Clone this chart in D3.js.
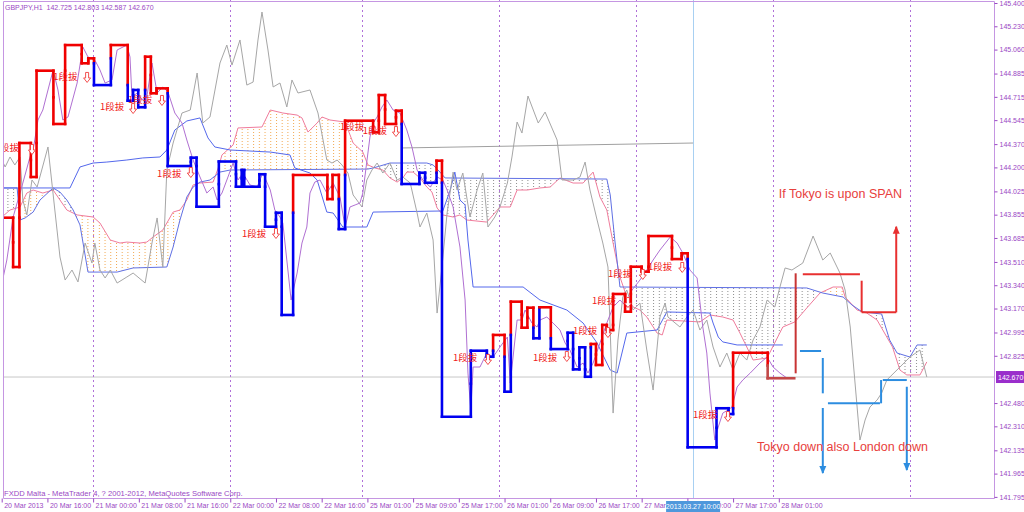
<!DOCTYPE html>
<html><head><meta charset="utf-8">
<script src="https://cdn.jsdelivr.net/npm/d3@7"></script>
<style>html,body{margin:0;padding:0;background:#fff;overflow:hidden}</style>
</head><body>
<svg id="c" width="1024" height="512"></svg>
<script>
// ---------- DATA (bar index, price) ----------
const symbolHeader = "GBPJPY,H1  142.725 142.803 142.587 142.670";
const copyright = "FXDD Malta - MetaTrader 4, ? 2001-2012, MetaQuotes Software Corp.";
const currentPrice = 142.670;
const yTicks = [145.400,145.230,145.060,144.885,144.715,144.545,144.370,144.200,144.025,143.855,143.685,143.510,143.340,143.170,142.995,142.825,142.480,142.310,142.135,141.965,141.795];
const xTickBars = [0,8,16,24,32,40,48,56,64,72,80,88,96,104,112,120,128,136];
const xTickLabels = ["20 Mar 2013","20 Mar 16:00","21 Mar 00:00","21 Mar 08:00","21 Mar 16:00","22 Mar 00:00","22 Mar 08:00","22 Mar 16:00","25 Mar 01:00","25 Mar 09:00","25 Mar 17:00","26 Mar 01:00","26 Mar 09:00","26 Mar 17:00","27 Mar 01:00","27 Mar 09:00","27 Mar 17:00","28 Mar 01:00"];
const daySeparatorBars = [16,40,63,87,111,135,159];
const crosshairBar = 121;
const crosshairLabel = "2013.03.27 10:00";

const closeLine = [[0.05,143.356],[0.9,143.524],[2.0,143.838],[3.7,144.086],[4.95,144.276],[5.5,144.327],[6.35,144.546],[7.2,144.619],[9.0,144.911],[9.85,144.765],[10.7,144.546],[11.6,144.568],[13.2,144.816],[14.2,145.079],[15.1,145.006],[16.3,144.984],[17.2,144.911],[18.1,144.816],[19.3,144.838],[20.2,145.057],[21.9,145.093],[22.45,145.006],[22.8,144.714],[23.7,144.743],[24.55,144.692],[25.4,144.714],[26.3,144.962],[27.2,144.743],[28.2,144.787],[29.1,144.750],[30.3,144.597],[31.55,144.524],[32.4,144.400],[33.5,144.254],[34.7,144.130],[35.9,144.013],[37.0,144.057],[37.7,143.962],[38.55,144.013],[39.6,144.130],[40.5,144.232],[41.35,144.108],[42.2,144.159],[43.45,144.072],[44.7,144.057],[45.7,144.159],[47.0,144.035],[47.8,143.889],[48.7,143.838],[49.2,143.794],[50.65,143.232],[51.7,143.429],[52.55,143.648],[53.4,143.765],[53.95,144.013],[54.8,144.093],[55.7,144.108],[56.9,144.013],[58.0,144.086],[59.2,143.984],[60.1,143.765],[60.95,143.911],[61.85,143.926],[62.7,143.940],[63.2,144.013],[64.45,144.422],[65.0,144.524],[65.7,144.568],[66.55,144.641],[67.4,144.692],[68.5,144.619],[69.7,144.597],[70.9,144.473],[71.8,144.349],[72.7,144.181],[73.7,144.108],[75.0,144.057],[76.2,144.130],[77.2,144.108],[77.95,144.035],[79.0,143.911],[80.2,143.619],[81.1,143.232],[81.6,142.699],[82.1,142.429],[82.5,142.743],[83.7,142.743],[84.9,142.845],[86.0,142.816],[87.2,142.889],[88.5,142.962],[89.0,142.626],[90.2,143.086],[91.05,143.086],[91.6,143.159],[92.8,143.064],[93.7,143.035],[94.2,143.086],[95.4,143.108],[96.5,143.064],[97.7,143.013],[98.6,142.918],[99.45,142.867],[100.7,142.743],[101.75,142.772],[102.6,142.699],[103.5,142.772],[104.7,142.918],[105.9,143.064],[107.0,143.181],[108.2,143.232],[109.4,143.181],[110.3,143.305],[111.7,143.378],[112.9,143.451],[114.0,143.524],[115.2,143.597],[117.0,143.692],[118.2,143.648],[119.2,143.575],[120.45,143.451],[121.7,143.393],[122.7,143.035],[123.4,142.845],[123.95,142.553],[124.8,142.210],[125.4,142.305],[126.2,142.407],[127.1,142.429],[127.8,142.451],[128.7,142.597],[129.7,142.648],[131.0,142.699],[132.7,142.772],[133.95,142.816],[135.0,142.743],[136.2,142.699],[137.4,142.663]];

const grayLine = [[0.05,144.254],[0.6,144.203],[1.45,144.276],[2.3,144.218],[3.2,144.276],[3.7,143.962],[4.4,143.853],[5.3,144.108],[6.2,144.057],[8.1,144.349],[9.3,143.889],[10.2,143.546],[11.1,143.378],[12.3,143.451],[13.35,143.364],[14.6,143.648],[15.8,143.502],[16.3,143.648],[17.2,143.451],[18.1,143.393],[19.0,143.451],[20.2,143.356],[21.9,143.400],[23.0,143.429],[25.1,143.356],[26.3,143.648],[27.2,143.831],[28.2,143.473],[28.9,144.181],[30.0,144.378],[31.55,144.597],[33.0,144.619],[34.2,144.889],[35.2,144.524],[36.45,144.568],[38.2,144.962],[39.4,145.093],[40.3,144.947],[41.7,145.130],[42.9,144.801],[44.0,144.823],[44.85,145.130],[45.55,145.334],[46.6,145.057],[47.5,144.787],[48.7,144.816],[49.9,144.641],[50.8,144.838],[51.85,144.743],[53.95,144.765],[55.35,144.597],[56.9,144.254],[57.8,144.232],[58.7,144.254],[59.55,144.218],[60.6,144.159],[61.5,143.999],[63.05,143.911],[63.9,144.108],[64.8,144.181],[65.7,144.232],[66.7,144.159],[67.95,144.232],[69.2,144.108],[70.2,144.130],[71.5,144.086],[72.7,143.867],[73.2,143.765],[74.4,143.867],[75.5,143.670],[76.2,143.137],[77.05,143.473],[77.95,143.867],[79.0,144.166],[79.7,144.035],[80.7,144.159],[81.95,143.838],[83.2,144.035],[84.2,144.159],[85.1,143.765],[86.3,143.838],[87.2,143.911],[88.5,144.086],[89.3,144.276],[90.2,144.531],[91.05,144.451],[92.1,144.721],[93.9,144.524],[95.1,144.604],[97.2,144.400],[98.05,144.108],[100.0,144.108],[101.2,144.130],[102.1,144.239],[102.95,144.035],[104.2,143.816],[105.2,143.648],[106.1,143.473],[107.0,142.407],[107.85,142.940],[108.7,143.254],[109.4,143.305],[110.5,143.159],[111.7,143.210],[112.9,142.867],[114.0,142.575],[115.2,143.108],[116.1,143.210],[116.6,143.108],[118.7,143.035],[119.9,143.108],[121.0,143.159],[122.2,143.013],[123.4,143.086],[124.5,142.889],[125.7,142.743],[126.9,142.845],[128.0,142.721],[129.2,142.845],[130.4,142.794],[131.5,142.940],[132.7,143.035],[133.95,143.232],[135.3,143.181],[136.2,143.327],[137.1,143.466],[138.3,143.451],[140.2,143.502],[142.0,143.699],[143.7,143.524],[145.0,143.575],[146.7,143.429],[147.6,143.305],[148.5,143.035],[150.2,142.210],[151.1,142.356],[151.95,142.451],[153.2,142.502],[154.0,142.553],[154.9,142.648],[157.2,142.743],[158.95,142.816],[160.7,142.867],[161.9,142.670]];

const kijunLine = [[0.05,144.050],[11.95,144.050],[13.7,144.203],[16.0,144.232],[18.4,144.239],[21.9,144.254],[24.7,144.269],[27.7,144.276],[28.9,144.327],[30.3,144.473],[32.4,144.539],[34.7,144.561],[36.1,144.415],[37.3,144.349],[40.0,144.327],[47.0,144.312],[50.45,144.291],[51.3,144.196],[53.95,144.159],[55.2,144.108],[56.9,143.874],[58.0,143.867],[59.7,143.765],[63.9,143.765],[65.0,143.874],[77.2,143.882],[78.5,144.035],[79.3,144.166],[80.2,143.962],[81.1,143.926],[81.6,143.670],[82.5,143.327],[91.25,143.327],[94.2,143.232],[98.9,143.159],[101.75,143.064],[104.2,142.918],[106.5,142.721],[107.7,142.699],[109.4,142.991],[114.7,143.013],[116.4,143.145],[123.95,143.137],[124.5,143.064],[125.4,142.962],[126.2,142.926],[128.7,142.904],[136.7,142.904]];

const spanB = [[0.05,144.050],[2.7,144.050],[3.2,143.816],[4.1,143.831],[5.5,143.874],[6.7,143.962],[9.0,144.050],[10.2,144.020],[11.4,143.962],[12.5,143.889],[13.7,143.780],[15.1,143.436],[20.2,143.436],[23.0,143.466],[28.9,143.473],[30.0,143.619],[31.2,143.816],[32.4,143.984],[33.5,144.057],[34.7,144.093],[36.45,144.108],[38.2,144.166],[40.0,144.181],[64.1,144.188],[65.0,144.196],[66.2,144.210],[67.95,144.232],[74.4,144.232],[75.5,144.218],[76.7,144.166],[77.6,144.123],[105.9,144.115],[106.5,143.999],[107.3,143.670],[108.2,143.327],[140.9,143.320],[143.7,143.283],[147.25,143.254],[148.8,143.196],[150.6,143.145],[154.0,143.130],[155.4,142.940],[156.7,142.845],[158.95,142.816],[160.2,142.904],[161.9,142.904]];

const spanA = [[0.05,143.838],[1.45,143.889],[3.2,143.911],[4.4,144.013],[5.5,144.035],[7.2,144.013],[9.0,144.035],[10.2,143.962],[11.4,143.889],[13.2,143.853],[16.0,143.838],[17.2,143.794],[19.0,143.670],[20.7,143.648],[21.9,143.655],[24.2,143.648],[25.4,143.655],[26.5,143.692],[28.2,143.743],[30.0,143.874],[31.2,143.889],[32.4,143.962],[33.5,144.072],[34.7,144.086],[37.0,144.093],[37.9,144.196],[38.55,144.291],[40.5,144.364],[41.35,144.488],[45.55,144.495],[47.0,144.619],[49.2,144.597],[51.7,144.582],[52.55,144.561],[53.6,144.458],[55.2,144.524],[56.05,144.568],[57.45,144.546],[60.1,144.531],[61.5,144.378],[63.2,144.312],[64.1,144.218],[65.3,144.196],[66.7,144.181],[67.95,144.123],[69.2,144.093],[70.2,144.123],[70.9,144.166],[72.0,144.166],[73.2,144.123],[74.4,144.057],[75.3,144.020],[76.2,143.904],[77.2,143.853],[79.0,143.838],[80.2,143.853],[81.4,143.816],[84.9,143.801],[86.0,143.853],[87.2,143.911],[89.0,143.911],[90.2,144.035],[92.0,144.035],[94.2,144.050],[96.0,144.057],[97.7,144.123],[100.0,144.086],[101.75,144.086],[103.5,144.166],[104.7,143.984],[105.9,143.889],[107.0,143.648],[108.2,143.400],[109.4,143.254],[110.5,143.181],[111.7,143.159],[112.9,143.108],[114.7,142.991],[115.6,142.977],[116.4,143.086],[122.2,143.072],[123.95,143.123],[126.2,143.108],[128.0,143.086],[129.2,142.991],[130.4,142.889],[131.5,142.794],[133.95,142.809],[136.7,143.035],[138.8,143.072],[140.9,143.174],[143.2,143.283],[145.5,143.327],[147.1,143.327],[147.6,143.254],[149.7,143.159],[151.4,143.137],[153.2,143.086],[154.9,142.962],[155.9,142.889],[157.2,142.721],[158.4,142.685],[160.7,142.685],[161.9,142.780]];

// step indicator: [startBar, endBar, price, colour code]
const stepSegs = [[0.05,2.0,143.833,'r'],[2.0,3.1,143.473,'r'],[3.1,5.1,144.378,'r'],[5.1,6.1,144.130,'r'],[6.1,9.05,144.906,'r'],[9.05,11.1,144.517,'r'],[11.1,14.0,145.093,'r'],[14.0,15.15,144.960,'r'],[15.15,16.15,144.996,'r'],[16.15,19.1,144.801,'b'],[19.1,22.05,145.093,'r'],[22.05,23.0,144.687,'b'],[23.0,23.9,144.765,'b'],[23.9,25.1,144.639,'b'],[25.1,26.1,145.008,'r'],[26.1,27.1,144.741,'r'],[27.1,29.05,144.777,'r'],[29.05,33.1,144.210,'b'],[33.1,34.1,144.271,'b'],[34.1,38.0,143.913,'b'],[38.0,41.0,144.243,'b'],[41.0,42.0,144.059,'b'],[42.0,42.45,144.181,'b'],[42.45,45.1,144.059,'b'],[45.1,46.1,144.150,'b'],[46.1,48.0,143.767,'b'],[48.0,49.0,143.869,'b'],[49.0,51.0,143.123,'b'],[51.0,57.0,144.145,'r'],[57.0,57.9,143.969,'r'],[57.9,59.0,144.145,'r'],[59.0,60.1,143.750,'b'],[60.1,65.0,144.541,'r'],[65.0,66.0,144.456,'r'],[66.0,67.1,144.728,'r'],[67.1,69.0,144.517,'r'],[69.0,70.0,144.614,'r'],[70.0,73.1,144.079,'b'],[73.1,74.1,144.161,'b'],[74.1,76.1,144.088,'b'],[76.1,77.05,144.249,'r'],[77.05,82.1,142.380,'b'],[82.1,84.9,142.862,'b'],[84.9,86.0,142.818,'b'],[86.0,88.0,142.977,'r'],[88.0,89.1,142.563,'b'],[89.1,91.0,143.220,'r'],[91.0,92.0,143.030,'r'],[92.0,93.05,143.176,'r'],[93.05,94.1,142.953,'b'],[94.1,96.1,143.179,'r'],[96.1,99.05,142.874,'b'],[99.05,100.0,142.993,'b'],[100.0,101.1,142.726,'b'],[101.1,102.1,142.887,'b'],[102.1,103.1,142.672,'b'],[103.1,104.0,142.911,'r'],[104.0,105.1,142.758,'r'],[105.1,105.9,143.050,'r'],[105.9,107.0,143.013,'r'],[107.0,109.1,143.276,'r'],[109.1,110.1,143.147,'r'],[110.1,112.0,143.475,'r'],[112.0,113.2,143.439,'r'],[113.2,117.3,143.699,'r'],[117.3,119.0,143.531,'r'],[119.0,120.05,143.573,'r'],[120.05,125.1,142.157,'b'],[125.1,127.2,142.442,'b'],[127.2,128.0,142.400,'b'],[128.0,134.05,142.847,'r'],[134.05,138.7,142.661,'d']];

const tagText = "1段拔";
const tagBars = [-1.2,9.0,17.2,22.1,27.2,42.05,59.2,63.2,79.0,93.0,100.0,103.3,106.1,113.1,121.0];
const tagPrices = [144.342,144.867,144.641,144.692,144.159,143.721,144.495,144.473,142.816,142.816,143.013,143.225,143.429,143.480,142.393];
const arrowBars = [5.3,14.95,23.0,28.05,33.1,48.0,69.0,85.1,98.9,106.1,109.6,112.2,119.1,127.1];
const arrowPrices = [144.327,144.853,144.626,144.685,144.159,143.714,144.458,142.794,142.816,142.991,143.210,143.415,143.466,142.378];

const trendLine = [[70.2,144.342],[121.0,144.378]];
const redAnno = [[138.95,143.427,138.95,142.697],[140.2,143.420,150.2,143.420],[150.5,143.373,150.5,143.142],[150.5,143.142,156.55,143.142],[156.55,143.142,156.55,143.767]];
const redArrowTips = [[156.55,143.767]];
const blueAnno = [[139.7,142.860,143.4,142.860],[143.7,142.809,143.7,142.551],[143.7,142.444,143.7,141.969],[144.6,142.478,153.7,142.478],[153.9,142.478,153.9,142.648],[154.2,142.648,158.4,142.648],[158.4,142.599,158.4,141.991]];
const blueArrowTips = [[143.7,141.969],[158.4,141.991]];
const noteTexts = ["If Tokyo is upon SPAN","Tokyo down also London down"];
const noteBars = [136.0,132.2];
const notePrices = [144.013,142.166];

// ---------- DRAWING ----------
const W=1024,H=512, L=3, R=994, T=1, B=498;
const x = d3.scaleLinear().domain([0,8]).range([1.7,1.7+8*5.714]);
const y = d3.scaleLinear().domain([141.795,145.400]).range([496.9,3]);
const svg = d3.select('#c');
const defs = svg.append('defs');
const AX='#9a48c4', FR='#c596e2';
const stepCol = {r:'#f00000', b:'#0000f0', d:'#c24848'};

defs.append('clipPath').attr('id','plot').append('rect').attr('x',L).attr('y',0).attr('width',R-L).attr('height',B);
function addPattern(id,col){
  const p=defs.append('pattern').attr('id',id).attr('patternUnits','userSpaceOnUse')
    .attr('width',5.714).attr('height',3).attr('x',x(0)).attr('y',0);
  p.append('rect').attr('width',1).attr('height',1).attr('fill',col);
}
addPattern('dotO','#f2a850'); addPattern('dotG','#8c8c8c');
const below = d3.area().x(d=>x(d[0])).y0(B).y1(d=>y(d[1]));
const above = d3.area().x(d=>x(d[0])).y0(0).y1(d=>y(d[1]));
defs.append('clipPath').attr('id','belowA').append('path').attr('d',below(spanA));
defs.append('clipPath').attr('id','aboveB').append('path').attr('d',above(spanB));
defs.append('clipPath').attr('id','belowB').append('path').attr('d',below(spanB));
defs.append('clipPath').attr('id','aboveA').append('path').attr('d',above(spanA));

svg.append('rect').attr('width',W).attr('height',H).attr('fill','#fff');
const g = svg.append('g').attr('clip-path','url(#plot)');

g.append('line').attr('x1',L).attr('x2',R).attr('y1',y(currentPrice)).attr('y2',y(currentPrice)).attr('stroke','#c8c8c8');
g.selectAll('.sep').data(daySeparatorBars).enter().append('line')
  .attr('x1',d=>Math.round(x(d))+0.5).attr('x2',d=>Math.round(x(d))+0.5).attr('y1',0).attr('y2',B)
  .attr('stroke','#b070d8').attr('stroke-dasharray','2,3');
g.append('line').attr('x1',Math.round(x(crosshairBar))+0.5).attr('x2',Math.round(x(crosshairBar))+0.5).attr('y1',0).attr('y2',B).attr('stroke','#a8d0f2');

g.append('g').attr('clip-path','url(#belowA)').append('rect').attr('clip-path','url(#aboveB)')
  .attr('x',0).attr('y',0).attr('width',W).attr('height',B).attr('fill','url(#dotO)');
g.append('g').attr('clip-path','url(#belowB)').append('rect').attr('clip-path','url(#aboveA)')
  .attr('x',0).attr('y',0).attr('width',W).attr('height',B).attr('fill','url(#dotG)');

const line = d3.line().x(d=>x(d[0])).y(d=>y(d[1]));
g.append('path').attr('d',line(spanA)).attr('fill','none').attr('stroke','#f07c9c').attr('stroke-width',1);
g.append('path').attr('d',line(spanB)).attr('fill','none').attr('stroke','#6070e4').attr('stroke-width',1);
g.append('path').attr('d',line(kijunLine)).attr('fill','none').attr('stroke','#5468ec').attr('stroke-width',1);
g.append('path').attr('d',line(grayLine)).attr('fill','none').attr('stroke','#a6a6a6').attr('stroke-width',1);
g.append('path').attr('d',line(trendLine)).attr('fill','none').attr('stroke','#a0a0a0').attr('stroke-width',1);
g.append('path').attr('d',line(closeLine)).attr('fill','none').attr('stroke','#b070d2').attr('stroke-width',1);

const sg = g.append('g').attr('stroke-width',2.6).attr('stroke-linecap','square').attr('fill','none');
stepSegs.forEach((s,i)=>{
  if(i<stepSegs.length-1){
    const n=stepSegs[i+1], xv=x(s[1]);
    const hi = s[2]>n[2]? s : n, lo = s[2]>n[2]? n : s;
    let split = (s[2]+n[2])/2;
    if(i>0){ const pp=stepSegs[i-1][2]; if(pp<hi[2] && pp>lo[2]) split=pp; }
    sg.append('line').attr('x1',xv).attr('x2',xv).attr('y1',y(hi[2])).attr('y2',y(split)).attr('stroke',stepCol[hi[3]]);
    sg.append('line').attr('x1',xv).attr('x2',xv).attr('y1',y(split)).attr('y2',y(lo[2])).attr('stroke',stepCol[lo[3]]);
  }
});
stepSegs.forEach(s=>{
  sg.append('line').attr('x1',x(s[0])).attr('x2',x(s[1])).attr('y1',y(s[2])).attr('y2',y(s[2])).attr('stroke',stepCol[s[3]]);
});

g.selectAll('.tag').data(tagBars).enter().append('text')
  .attr('x',(d)=>x(d)).attr('y',(d,i)=>y(tagPrices[i])+3.5)
  .attr('font-family','"Noto Sans CJK SC","Noto Sans CJK JP",sans-serif').attr('font-size',9.5)
  .attr('fill','#f01818').text(tagText);
g.selectAll('.arr').data(arrowBars).enter().append('path')
  .attr('transform',(d,i)=>`translate(${x(d)},${y(arrowPrices[i])})`)
  .attr('d','M-1.5,-5.5 H1.5 V0 H3.5 L0,4.5 L-3.5,0 H-1.5 Z')
  .attr('fill','#fff').attr('stroke','#f03c3c').attr('stroke-width',0.9);

const ag = g.append('g').attr('stroke-width',2);
redAnno.forEach((a,i)=>ag.append('line').attr('x1',x(a[0])).attr('y1',y(a[1])).attr('x2',x(a[2])).attr('y2',y(a[3]))
  .attr('stroke', i===0?'#c83434':'#e83030'));
blueAnno.forEach(a=>ag.append('line').attr('x1',x(a[0])).attr('y1',y(a[1])).attr('x2',x(a[2])).attr('y2',y(a[3])).attr('stroke','#2c8de0'));
redArrowTips.forEach(t=>g.append('path').attr('transform',`translate(${x(t[0])},${y(t[1])})`).attr('d','M0,-1 L3.5,7 L-3.5,7 Z').attr('fill','#e83030'));
blueArrowTips.forEach(t=>g.append('path').attr('transform',`translate(${x(t[0])},${y(t[1])})`).attr('d','M0,1 L3.5,-7 L-3.5,-7 Z').attr('fill','#2c8de0'));
noteTexts.forEach((t,i)=>g.append('text').attr('x',x(noteBars[i])).attr('y',y(notePrices[i])+4.5)
  .attr('font-family','"Liberation Sans",Arial,sans-serif').attr('font-size',12.5).attr('fill','#e8403c').text(t));

svg.append('path').attr('d',`M${L+0.5},${B+0.5} V${T+0.5} H${R+0.5} V${B+0.5} H${L+0.5}`).attr('fill','none').attr('stroke',FR);

const yAxis = d3.axisRight(y).tickValues(yTicks).tickSize(3).tickPadding(2).tickFormat(d3.format('.3f'));
const ya = svg.append('g').attr('transform',`translate(${R+0.5},0)`).call(yAxis);
ya.select('.domain').remove();
ya.selectAll('line').attr('stroke',AX);
ya.selectAll('text').attr('fill',AX).attr('font-family','"Liberation Sans",Arial,sans-serif').attr('font-size',7);

const xAxis = d3.axisBottom(x).tickValues(xTickBars).tickSize(4).tickPadding(2).tickFormat((d,i)=>xTickLabels[i]);
const xa = svg.append('g').attr('transform',`translate(0,${B+0.5})`).call(xAxis);
xa.select('.domain').remove();
xa.selectAll('line').attr('stroke',AX);
xa.selectAll('text').attr('fill',AX).attr('font-family','"Liberation Sans",Arial,sans-serif').attr('font-size',7)
  .attr('text-anchor','start').attr('dx',2).attr('dy','0.55em');

const cy = y(currentPrice);
svg.append('rect').attr('x',R+2).attr('y',cy-6).attr('width',W-R-2).attr('height',12).attr('fill','#9a2ecb');
svg.append('text').attr('x',R+4).attr('y',cy+2.5).attr('fill','#fff').attr('font-family','"Liberation Sans",Arial,sans-serif').attr('font-size',7).text(d3.format('.3f')(currentPrice));

const cx = x(crosshairBar);
svg.append('rect').attr('x',cx-27).attr('y',501).attr('width',54).attr('height',11).attr('fill','#4f98dc');
svg.append('text').attr('x',cx).attr('y',509).attr('text-anchor','middle').attr('fill','#fff').attr('font-family','"Liberation Sans",Arial,sans-serif').attr('font-size',7).text(crosshairLabel);

svg.append('text').attr('x',5).attr('y',10).attr('fill',AX).attr('font-family','"Liberation Sans",Arial,sans-serif').attr('font-size',7).attr('xml:space','preserve').text(symbolHeader);
svg.append('text').attr('x',4).attr('y',496).attr('fill',AX).attr('font-family','"Liberation Sans",Arial,sans-serif').attr('font-size',7.6).text(copyright);
</script>
</body></html>
